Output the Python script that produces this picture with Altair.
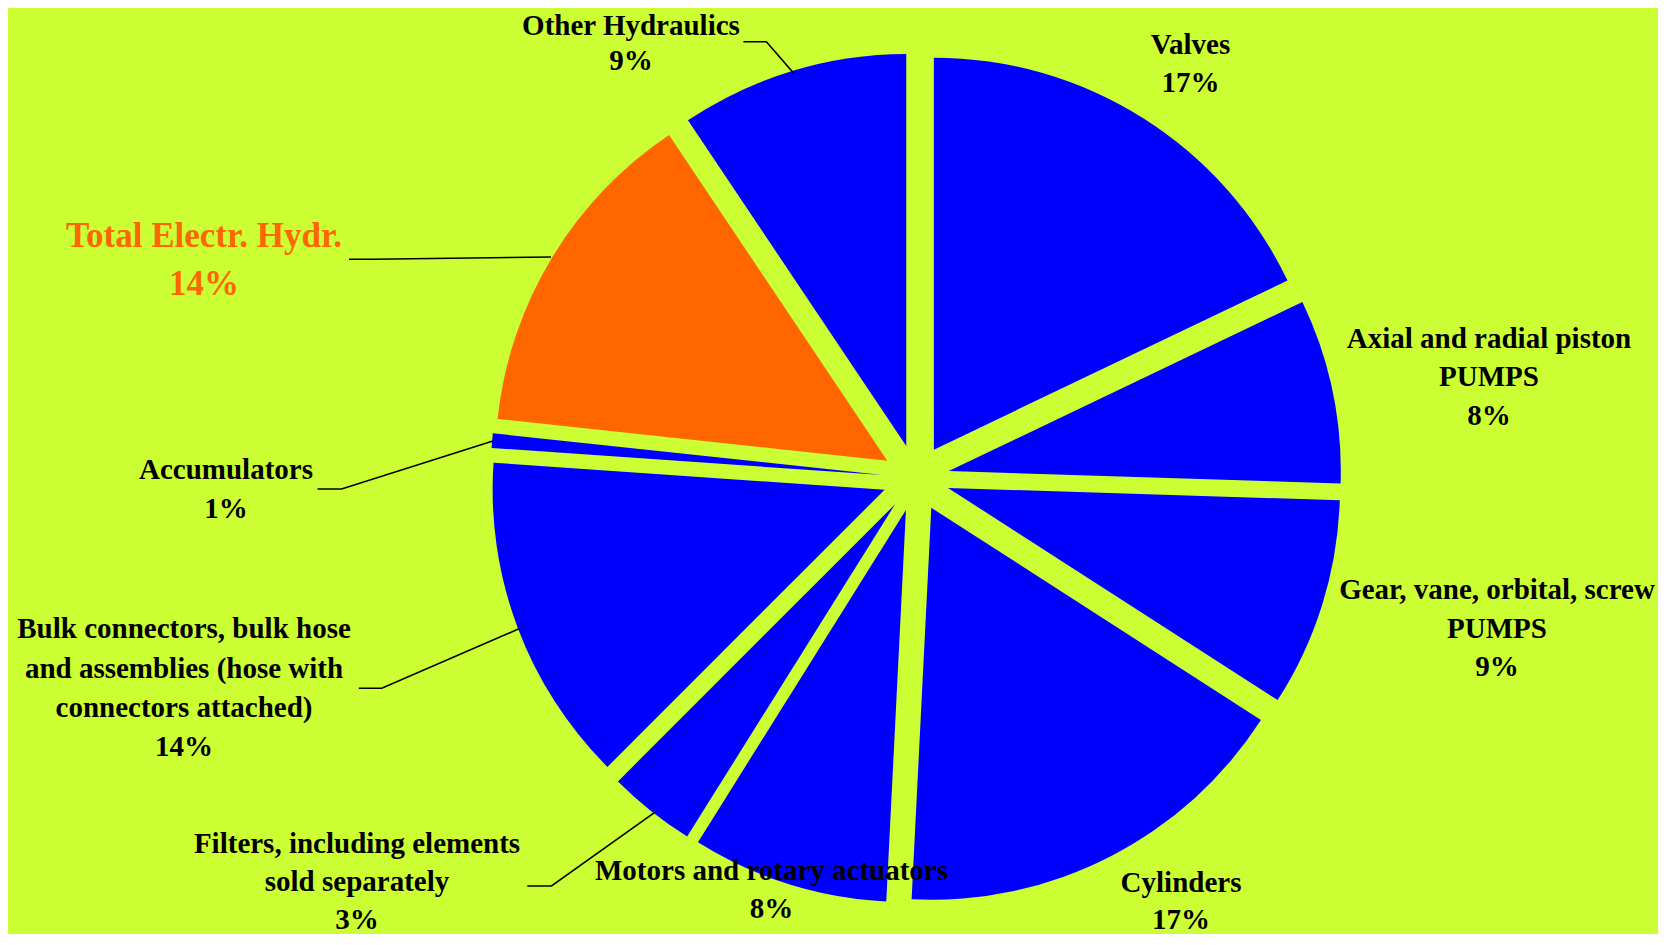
import math
import altair as alt
import pandas as pd

# ---------------- data ----------------
CATEGORIES = [
    "Valves",
    "Axial and radial piston PUMPS",
    "Gear, vane, orbital, screw PUMPS",
    "Cylinders",
    "Motors and rotary actuators",
    "Filters, including elements sold separately",
    "Bulk connectors, bulk hose and assemblies (hose with connectors attached)",
    "Accumulators",
    "Total Electr. Hydr.",
    "Other Hydraulics",
]
SHARES = [17.9, 7.6, 8.6, 16.7, 8.1, 3.6, 13.6, 0.6, 13.9, 9.4]
PERCENT_LABELS = ["17%", "8%", "9%", "17%", "8%", "3%", "14%", "1%", "14%", "9%"]
LABEL_LINES = [
    ["Valves"],
    ["Axial and radial piston", "PUMPS"],
    ["Gear, vane, orbital, screw", "PUMPS"],
    ["Cylinders"],
    ["Motors and rotary actuators"],
    ["Filters, including elements", "sold separately"],
    ["Bulk connectors, bulk hose", "and assemblies (hose with", "connectors attached)"],
    ["Accumulators"],
    ["Total Electr. Hydr."],
    ["Other Hydraulics"],
]
HIGHLIGHT = "Total Electr. Hydr."

# ---------------- layout / style ----------------
W, H = 1650, 926          # chart size (page has an 8px margin)
MARGIN = 8
CX, CY = 916, 478         # pie centre in page pixels
RADIUS = 392
EXPLODE = 33.5
BG = "#CCFF33"
BLUE = "#0000FF"
ORANGE = "#FF6600"
FONT = "Liberation Serif"

# label anchor per category: (centre x, first baseline y, line step) in page px
LABEL_POS = [
    (1190.5, 54.2, 38.0),
    (1489.0, 348.2, 38.2),
    (1497.0, 599.4, 38.3),
    (1181.0, 892.0, 37.0),
    (771.5, 880.0, 38.0),
    (357.0, 853.0, 38.0),
    (184.0, 638.3, 39.2),
    (226.0, 479.0, 39.0),
    (204.0, 246.7, 48.3),
    (631.0, 34.8, 35.5),
]
# leader lines (page px)
LEADERS = {
    "Other Hydraulics": [(743.4, 41.7), (766.4, 41.7), (793.3, 72.7)],
    "Total Electr. Hydr.": [(349.0, 259.3), (373.0, 259.3), (551.0, 257.0)],
    "Accumulators": [(317.5, 489.0), (341.6, 489.0), (493.7, 440.7)],
    "Bulk": [(358.8, 688.3), (381.8, 688.3), (520.0, 628.3)],
    "Filters": [(527.3, 886.0), (551.5, 886.0), (655.8, 811.7)],
}

def rel(px, py):
    return px - CX, CY - py

xscale = alt.Scale(domain=[MARGIN - CX, MARGIN + W - CX], nice=False, zero=False)
yscale = alt.Scale(domain=[CY - (MARGIN + H), CY - MARGIN], nice=False, zero=False)

# ---------------- slices ----------------
slices = pd.DataFrame({
    "order": list(range(len(CATEGORIES))),
    "category": CATEGORIES,
    "share": SHARES,
})
slice_colors = [ORANGE if c == HIGHLIGHT else BLUE for c in CATEGORIES]

arcs = (
    alt.Chart(slices)
    .transform_joinaggregate(total="sum(share)")
    .transform_window(cum="sum(share)", sort=[alt.SortField("order")], frame=[None, 0])
    .transform_calculate(
        t1="datum.cum / datum.total",
        t0="(datum.cum - datum.share) / datum.total",
    )
    .transform_calculate(
        mid="(datum.t0 + datum.t1) * PI",
    )
    .transform_calculate(
        ex=f"{EXPLODE} * sin(datum.mid)",
        ey=f"{EXPLODE} * cos(datum.mid)",
    )
    .mark_arc(radius=RADIUS)
    .encode(
        theta=alt.Theta("t0:Q", scale=alt.Scale(domain=[0, 1], range=[0, 2 * math.pi]), stack=None),
        theta2=alt.Theta2("t1:Q"),
        x=alt.X("ex:Q", scale=xscale, axis=None),
        y=alt.Y("ey:Q", scale=yscale, axis=None),
        color=alt.Color("category:N", scale=alt.Scale(domain=CATEGORIES, range=slice_colors), legend=None),
    )
)

# ---------------- leader lines ----------------
lrows = []
for name, pts in LEADERS.items():
    for k, (px, py) in enumerate(pts):
        x, y = rel(px, py)
        lrows.append({"id": name, "k": k, "x": x, "y": y})
leaders = (
    alt.Chart(pd.DataFrame(lrows))
    .mark_line(color="black", strokeWidth=1.6)
    .encode(
        x=alt.X("x:Q", scale=xscale, axis=None),
        y=alt.Y("y:Q", scale=yscale, axis=None),
        detail="id:N",
        order="k:Q",
    )
)

# ---------------- labels ----------------
black_rows, orange_rows = [], []
for cat, lines, pct, (lx, ly, step) in zip(CATEGORIES, LABEL_LINES, PERCENT_LABELS, LABEL_POS):
    for j, t in enumerate(lines + [pct]):
        x, y = rel(lx, ly + j * step)
        row = {"text": t, "x": x, "y": y}
        (orange_rows if cat == HIGHLIGHT else black_rows).append(row)

black_text = (
    alt.Chart(pd.DataFrame(black_rows))
    .mark_text(font=FONT, fontWeight="bold", fontSize=29, color="black",
               align="center", baseline="alphabetic")
    .encode(
        x=alt.X("x:Q", scale=xscale, axis=None),
        y=alt.Y("y:Q", scale=yscale, axis=None),
        text="text:N",
    )
)
orange_text = (
    alt.Chart(pd.DataFrame(orange_rows))
    .mark_text(font=FONT, fontWeight="bold", fontSize=35, color=ORANGE,
               align="center", baseline="alphabetic")
    .encode(
        x=alt.X("x:Q", scale=xscale, axis=None),
        y=alt.Y("y:Q", scale=yscale, axis=None),
        text="text:N",
    )
)

chart = (
    alt.layer(arcs, leaders, black_text, orange_text)
    .properties(width=W, height=H, background=BG, padding=0, autosize="none")
    .configure_view(stroke=None, fill=BG)
)

chart.save("out.html", embed_options={"renderer": "svg", "actions": False})
